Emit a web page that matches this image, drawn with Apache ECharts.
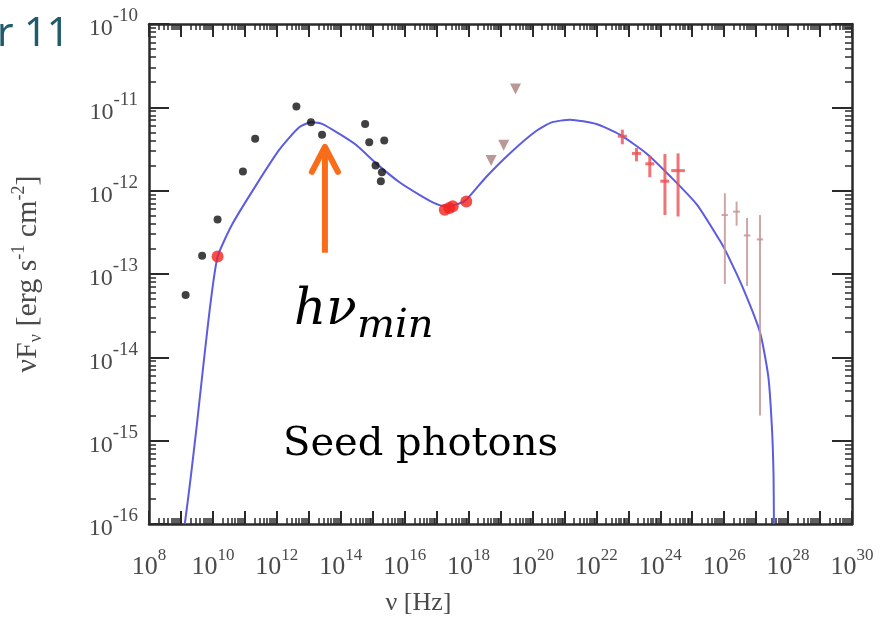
<!DOCTYPE html>
<html><head><meta charset="utf-8">
<script src="https://cdn.jsdelivr.net/npm/echarts@6/dist/echarts.min.js"></script>
<style>html,body{margin:0;padding:0;background:#fff}#c{width:893px;height:621px}</style>
</head><body><div id="c"></div>
<script>
// ---- data (nu [Hz], nuFnu [erg s^-1 cm^-2]) ----
const xLabelExponents = [8,10,12,14,16,18,20,22,24,26,28,30];
const yLabelExponents = [-16,-15,-14,-13,-12,-11,-10];

const archivalPoints = [
  [1.4e9,5.6e-14],[4.6e9,1.66e-13],[1.4e10,4.5e-13],[8.7e10,1.7e-12],[2.1e11,4.2e-12],
  [4.1e12,1.02e-11],[1.17e13,6.6e-12],[2.6e13,4.7e-12],[5.8e14,6.3e-12],[7.8e14,3.8e-12],
  [2.3e15,4.0e-12],[1.23e15,2.0e-12],[1.95e15,1.66e-12],[1.8e15,1.3e-12]
];
const radioXrayPoints = [
  [1.4e10,1.62e-13],[1.8e17,5.9e-13],[2.5e17,6.2e-13],[3.2e17,6.5e-13],[8.5e17,7.4e-13]
];
const upperLimits = [[5.1e18,2.3e-12],[1.26e19,3.5e-12],[2.95e19,1.66e-11]];
// [nu, F, nuLo, nuHi, FLo, FHi]
const fermiPoints = [
  [6.5e22,4.5e-12,4.7e22,9.0e22,3.6e-12,5.4e-12],
  [1.8e23,2.8e-12,1.3e23,2.5e23,2.25e-12,3.25e-12],
  [4.7e23,2.1e-12,3.4e23,6.5e23,1.45e-12,2.6e-12],
  [1.4e24,1.3e-12,1.0e24,1.9e24,5.1e-13,2.75e-12],
  [3.6e24,1.74e-12,2.2e24,5.9e24,4.9e-13,2.8e-12]
];
const vhePoints = [
  [1.05e26,5.1e-13,8.3e25,1.3e26,7.6e-14,9.3e-13],
  [2.45e26,5.6e-13,1.9e26,3.1e26,3.8e-13,7.4e-13],
  [5.2e26,2.9e-13,4.1e26,6.6e26,7.2e-14,4.7e-13],
  [1.32e27,2.6e-13,1.05e27,1.65e27,2.0e-15,5.1e-13]
];
const modelCurve = [
  [1.32e9,1.0e-16],[2.0e9,3.5e-16],[3.16e9,1.58e-15],[5.0e9,7.9e-15],[8.5e9,4.6e-14],
  [1.41e10,1.62e-13],[4.1e10,4.0e-13],[2.2e11,1.15e-12],[1.2e12,3.1e-12],[5.0e12,5.75e-12],
  [1.17e13,6.6e-12],[2.7e13,6.3e-12],[9.1e13,4.8e-12],[3.0e14,3.55e-12],[1.26e15,2.14e-12],
  [6.9e15,1.26e-12],[2.9e16,8.9e-13],[7.9e16,7.2e-13],[1.8e17,6.5e-13],[4.0e17,6.8e-13],
  [8.5e17,7.8e-13],[3.5e18,1.45e-12],[1.95e19,2.8e-12],[1.3e20,5.2e-12],[4.0e20,6.6e-12],
  [1.5e21,7.1e-12],[1.0e22,6.3e-12],[5.4e22,4.7e-12],[3.7e23,2.8e-12],[2.0e24,1.5e-12],
  [1.4e25,6.8e-13],[7.4e25,2.5e-13],[1.2e26,1.78e-13],[4.0e26,6.6e-14],[1.32e27,2.0e-14],
  [2.4e27,5.9e-15],[3.1e27,1.5e-15],[3.5e27,4.0e-16],[3.6e27,1.0e-16]
];
const nuMin = 3.2e13;            // arrow position
const arrowSpan = [1.8e-13, 3.55e-12]; // arrow bottom / tip

// ---- chart ----
const chart = echarts.init(document.getElementById('c'), null, {renderer:'canvas'});
const axisCol = '#2a2a2a';
const labCol = '#4a4a4a';
function richFor(base, sup, raise){
  return {
    b:{fontFamily:'Liberation Serif',fontSize:base,color:labCol,lineHeight:base,verticalAlign:'bottom'},
    s:{fontFamily:'Liberation Serif',fontSize:sup,color:labCol,lineHeight:sup+raise,verticalAlign:'top',padding:[0,0,raise,0]}
  };
}
function expOf(v){ return Math.round(Math.log10(v)); }
function baseAxis(){
  return {
    axisLine:{show:true,onZero:false,lineStyle:{color:axisCol,width:2.5}},
    splitLine:{show:false},
    minorSplitLine:{show:false}
  };
}
const xCommon = Object.assign(baseAxis(),{
  type:'log', logBase:10, min:1e8, max:1e30, interval:1,
  axisTick:{show:true,inside:true,length:13,lineStyle:{color:axisCol,width:2}},
  minorTick:{show:true,splitNumber:9,length:6,lineStyle:{color:axisCol,width:1.5}}
});
const yCommon = Object.assign(baseAxis(),{
  type:'log', logBase:10, min:1e-16, max:1e-10, interval:1,
  axisTick:{show:true,inside:true,length:20,lineStyle:{color:axisCol,width:2}},
  minorTick:{show:true,splitNumber:9,length:7,lineStyle:{color:axisCol,width:1.5}}
});

function errRender(color,width){
  return function(params, api){
    const c = api.coord([api.value(0), api.value(1)]);
    const lo = api.coord([api.value(0), api.value(4)]);
    const hi = api.coord([api.value(0), api.value(5)]);
    const l = api.coord([api.value(2), api.value(1)]);
    const r = api.coord([api.value(3), api.value(1)]);
    const st = {stroke:color,lineWidth:width};
    return {type:'group',children:[
      {type:'line',shape:{x1:lo[0],y1:lo[1],x2:hi[0],y2:hi[1]},style:st},
      {type:'line',shape:{x1:l[0],y1:c[1],x2:r[0],y2:c[1]},style:st}
    ]};
  };
}

const option = {
  animation:false,
  backgroundColor:'#fff',
  grid:{left:149,right:41,top:24,bottom:84,containLabel:false},
  xAxis:[
    Object.assign({},xCommon,{position:'bottom',
      axisLabel:{show:true,margin:23,formatter:v=>{const e=expOf(v);return xLabelExponents.includes(e)?'{b|10}{s|'+e+'}':'';},rich:richFor(26,17,16)},
      name:'ν [Hz]',nameLocation:'middle',nameGap:66,
      nameTextStyle:{fontFamily:'Liberation Serif',fontSize:26,color:labCol,padding:[0,164,0,0]}
    }),
    Object.assign({},xCommon,{position:'top',axisLabel:{show:false}})
  ],
  yAxis:[
    Object.assign({},yCommon,{position:'left',
      axisLabel:{show:true,margin:11,formatter:v=>{const e=expOf(v);return yLabelExponents.includes(e)?'{b|10}{s|'+e+'}':'';},rich:richFor(24,19,15)},
      name:'{n|νF}{d|ν}{n| [erg s}{u|-1}{n| cm}{u|-2}{n|]}',nameLocation:'middle',nameRotate:90,nameGap:103,
      nameTextStyle:{rich:{
        n:{fontFamily:'Liberation Serif',fontSize:30,color:labCol,verticalAlign:'middle'},
        d:{fontFamily:'Liberation Serif',fontSize:18,color:labCol,padding:[16,0,0,0]},
        u:{fontFamily:'Liberation Serif',fontSize:18,color:labCol,padding:[0,0,18,0]}
      }}
    }),
    Object.assign({},yCommon,{position:'right',axisLabel:{show:false}})
  ],
  series:[
    {type:'line',name:'model',data:modelCurve,showSymbol:false,smooth:0.2,
     lineStyle:{color:'#5c5ce0',width:2},z:3},
    {type:'scatter',name:'archival',data:archivalPoints,symbol:'circle',symbolSize:8,
     itemStyle:{color:'#111'},z:4},
    {type:'scatter',name:'simult',data:radioXrayPoints,symbol:'circle',symbolSize:12,
     itemStyle:{color:'#f2231f'},z:5},
    {type:'scatter',name:'UL',data:upperLimits,symbol:'triangle',symbolRotate:180,symbolSize:11,
     itemStyle:{color:'#a97e7e'},z:4},
    {type:'custom',name:'fermi',data:fermiPoints,encode:{x:0,y:1},renderItem:errRender('rgba(236,80,84,0.8)',3),z:4},
    {type:'custom',name:'vhe',data:vhePoints,encode:{x:0,y:1},renderItem:errRender('rgba(196,150,150,0.85)',2),z:4}
  ]
};
chart.setOption(option);

// ---- annotations anchored to data coordinates ----
const tip = chart.convertToPixel({xAxisIndex:0,yAxisIndex:0},[nuMin,arrowSpan[1]]);
const bot = chart.convertToPixel({xAxisIndex:0,yAxisIndex:0},[nuMin,arrowSpan[0]]);
const orange = '#f86c1a';
chart.setOption({graphic:[
  {type:'line',shape:{x1:bot[0],y1:bot[1],x2:tip[0],y2:tip[1]+3},style:{stroke:orange,lineWidth:6},z:10},
  {type:'polyline',shape:{points:[[tip[0]-13,tip[1]+27],[tip[0],tip[1]+2],[tip[0]+13,tip[1]+27]]},
   style:{stroke:orange,lineWidth:6,lineJoin:'round',lineCap:'round',fill:null},z:10},
  {type:'text',left:294,top:286,style:{text:'hν',font:'italic 50px "DejaVu Serif"',fill:'#000'},z:10},
  {type:'text',left:357,top:307,style:{text:'min',font:'italic 40px "DejaVu Serif"',fill:'#000'},z:10},
  {type:'text',left:283,top:425,style:{text:'Seed photons',font:'40px "DejaVu Serif"',fill:'#000'},z:10},
  {type:'text',left:-3,top:15,style:{text:'r 11',font:'40px "Noto Sans"',fill:'#1f5b6b'},z:10}
]});
</script>
</body></html>
